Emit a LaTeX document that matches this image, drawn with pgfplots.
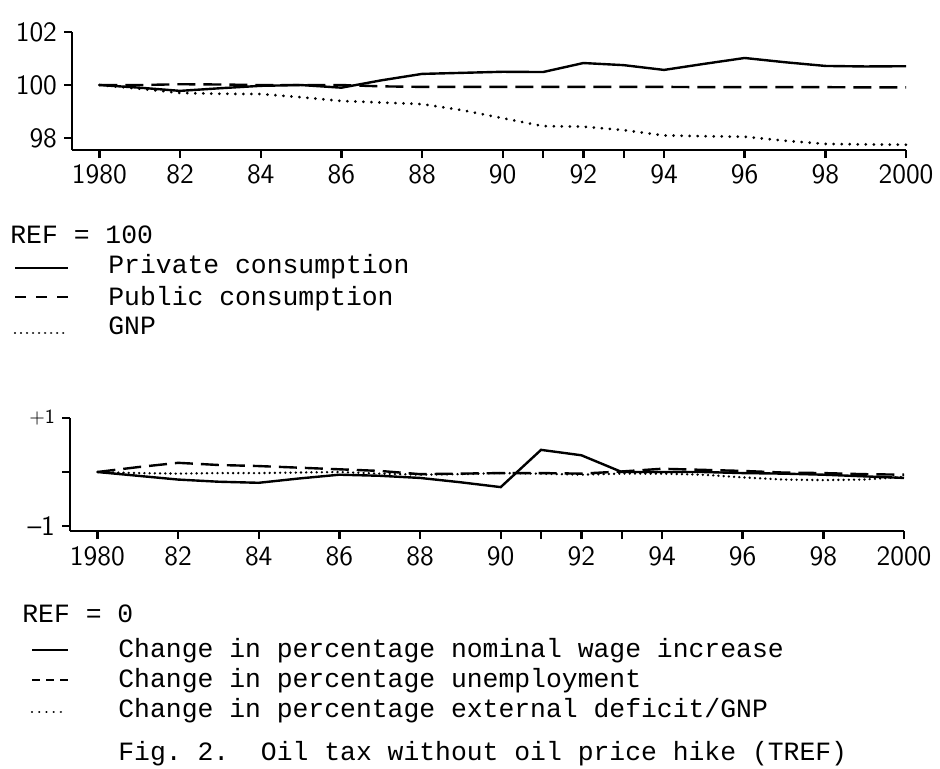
\documentclass[border=0pt]{standalone}
\usepackage{fontspec}
\usepackage{pgfplots}
\usepackage{pgfplotstable}
\pgfplotsset{compat=1.18}
\newfontfamily\tw{Liberation Mono}
\pgfplotstableread{
year priv pub gnp
1980 100.00 100.00 100.00
1981 99.90 100.00 99.86
1982 99.78 100.03 99.70
1983 99.88 100.02 99.67
1984 99.97 100.00 99.66
1985 100.00 100.00 99.54
1986 99.90 100.00 99.40
1987 100.18 99.95 99.34
1988 100.42 99.93 99.28
1989 100.46 99.93 99.05
1990 100.50 99.93 98.75
1991 100.49 99.93 98.45
1992 100.83 99.93 98.43
1993 100.75 99.93 98.30
1994 100.57 99.93 98.10
1995 100.80 99.92 98.07
1996 101.02 99.92 98.05
1997 100.86 99.92 97.90
1998 100.72 99.92 97.78
1999 100.70 99.91 97.76
2000 100.71 99.91 97.75
}\topdata
\pgfplotstableread{
year wage unemp ext
1980 0.00 0.00 0.00
1981 -0.07 0.09 -0.02
1982 -0.14 0.17 -0.03
1983 -0.18 0.13 -0.02
1984 -0.20 0.11 -0.02
1985 -0.12 0.08 -0.01
1986 -0.05 0.05 0.00
1987 -0.07 0.02 -0.03
1988 -0.11 -0.04 -0.05
1989 -0.19 -0.03 -0.04
1990 -0.28 -0.02 -0.02
1991 0.41 -0.02 -0.03
1992 0.31 -0.03 -0.05
1993 0.00 0.01 -0.03
1994 0.00 0.06 -0.03
1995 0.00 0.04 -0.05
1996 -0.02 0.02 -0.10
1997 -0.03 -0.01 -0.14
1998 -0.05 -0.02 -0.15
1999 -0.08 -0.04 -0.14
2000 -0.11 -0.05 -0.09
}\botdata
\begin{document}
\begin{tikzpicture}
\path[use as bounding box] (0pt,0pt) rectangle (470pt,384pt);
\pgfplotsset{
  myax/.style={
    scale only axis, width=417pt,
    axis x line=bottom, axis y line=left,
    axis line style={-, line width=1.3pt},
    tick align=outside, major tick length=4pt,
    tick style={line width=1.2pt, black},
    xmin=1979.32, xmax=2000,
    xtick={1980,1982,...,2000},
    xticklabels={1980,82,84,86,88,90,92,94,96,98,2000},
    extra x ticks={1991,1993}, extra x tick labels={},
    extra x tick style={tick align=outside, major tick length=4pt},
    ticklabel style={font=\fontsize{14}{16}\selectfont\sffamily},
    /pgf/number format/assume math mode=true,
    clip=false,
  },
  solidl/.style={black, line width=1.2pt},
  dashl/.style={black, line width=1.2pt, dash pattern=on 9pt off 4pt},
  dotl/.style={black, line width=1.5pt, line cap=round, dash pattern=on 0.01pt off 4pt},
}
% top axis
\begin{axis}[myax, at={(36pt,309pt)}, anchor=south west, height=59pt,
  ymin=97.55, ymax=102, ytick={98,100,102}, yticklabels={98,100,102}]
\addplot[solidl] table[x=year,y=priv] {\topdata};
\addplot[dashl] table[x=year,y=pub] {\topdata};
\addplot[dotl] table[x=year,y=gnp] {\topdata};
\end{axis}
% bottom axis
\begin{axis}[myax, at={(35pt,118.5pt)}, anchor=south west, height=56.5pt,
  ymin=-1.093, ymax=1, ytick={-1,0,1}, yticklabels={--1,,{\fontsize{10}{12}\selectfont +1}}]
\addplot[solidl] table[x=year,y=wage] {\botdata};
\addplot[dashl] table[x=year,y=unemp] {\botdata};
\addplot[black, line width=1.3pt, line cap=round, dash pattern=on 0.01pt off 2.6pt] table[x=year,y=ext] {\botdata};
\end{axis}
% legends
\begin{scope}[every node/.style={anchor=base west, inner sep=0pt, font=\fontsize{13.2}{16}\selectfont\tw}]
\node at (5pt,262.5pt) {REF = 100};
\draw[line width=1pt] (7.5pt,250pt) -- (34pt,250pt);
\node at (54pt,247.5pt) {Private consumption};
\draw[line width=1pt, dash pattern=on 5.5pt off 5pt] (7.5pt,235.5pt) -- (34pt,235.5pt);
\node at (54pt,231.5pt) {Public consumption};
\draw[line width=1.2pt, line cap=round, dash pattern=on 0.01pt off 3pt] (7.5pt,217.5pt) -- (34pt,217.5pt);
\node at (54pt,217pt) {GNP};
\node at (11pt,73pt) {REF = 0};
\draw[line width=1pt] (16pt,59pt) -- (34pt,59pt);
\node at (59pt,55.5pt) {Change in percentage nominal wage increase};
\draw[line width=1pt, dash pattern=on 4pt off 3pt] (16pt,44pt) -- (34pt,44pt);
\node at (59pt,40.5pt) {Change in percentage unemployment};
\draw[line width=1.2pt, line cap=round, dash pattern=on 0.01pt off 3.6pt] (16pt,28pt) -- (34pt,28pt);
\node at (59pt,25.5pt) {Change in percentage external deficit/GNP};
\node at (59pt,4pt) {Fig.\ 2.\ \ Oil tax without oil price hike (TREF)};
\end{scope}
\end{tikzpicture}
\end{document}
